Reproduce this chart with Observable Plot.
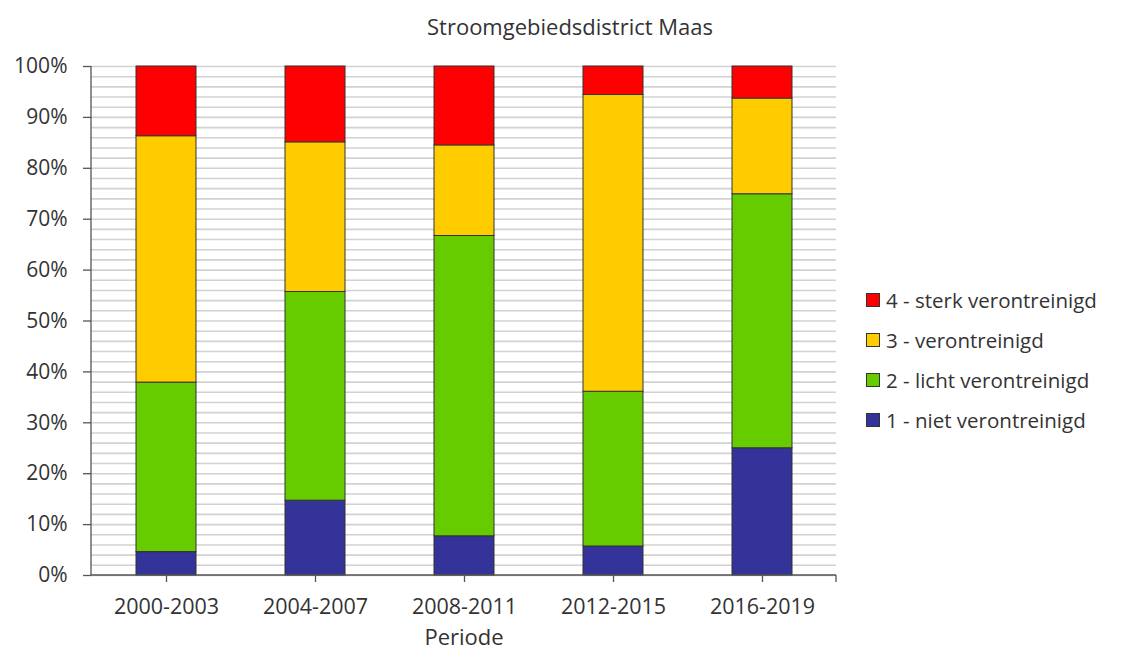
<!DOCTYPE html>
<html>
<head>
<meta charset="utf-8">
<script src="https://cdn.jsdelivr.net/npm/d3@7"></script>
<script src="https://cdn.jsdelivr.net/npm/@observablehq/plot@0.6"></script>
<style>
  html, body { margin: 0; padding: 0; background: #fff; }
  #wrap { position: relative; width: 1126px; height: 652px; font-family: "Open Sans", sans-serif; color: #333; }
  #title { position: absolute; left: 427px; top: 11px; font-size: 22px; white-space: nowrap; }
  #legend { position: absolute; left: 866px; top: 280px; font-size: 20.5px; }
  .row { display: flex; align-items: center; height: 40px; white-space: nowrap; }
  .sw { width: 12px; height: 12px; border: 1px solid #333; margin-right: 6px; box-sizing: content-box; }
</style>
</head>
<body>
<div id="wrap">
  <div id="title"></div>
  <div id="chart"></div>
  <div id="legend"></div>
</div>
<script>
const title = "Stroomgebiedsdistrict Maas";
const periods = ["2000-2003", "2004-2007", "2008-2011", "2012-2015", "2016-2019"];
const categories = ["1 - niet verontreinigd", "2 - licht verontreinigd", "3 - verontreinigd", "4 - sterk verontreinigd"];
const colors = ["#333399", "#66cc00", "#ffcc00", "#ff0000"];
const niet = [4.6, 14.7, 7.7, 5.7, 25.0];
const licht = [33.3, 41.0, 59.0, 30.4, 49.9];
const veront = [48.4, 29.4, 17.8, 58.3, 18.8];
const sterk = [13.7, 14.9, 15.5, 5.6, 6.3];
const yTicks = [0, 10, 20, 30, 40, 50, 60, 70, 80, 90, 100];
const gridValues = d3.range(0, 101, 2);
const xLabel = "Periode";

const series = [niet, licht, veront, sterk];
const data = [];
series.forEach((vals, i) => vals.forEach((v, j) => data.push({periode: periods[j], cat: categories[i], value: v})));

document.getElementById("title").textContent = title;

const axisLines = (index, scales, values, dims) => {
  const g = d3.create("svg:g").attr("stroke", "#555").attr("stroke-width", 1.3).attr("fill", "none");
  const x0 = dims.marginLeft, x1 = dims.width - dims.marginRight;
  const y0 = dims.height - dims.marginBottom, y1 = dims.marginTop;
  g.append("line").attr("x1", x0).attr("x2", x0).attr("y1", y1).attr("y2", y0);
  g.append("line").attr("x1", x0).attr("x2", x1).attr("y1", y0).attr("y2", y0);
  g.append("line").attr("x1", x1).attr("x2", x1).attr("y1", y0).attr("y2", y0 + 7);
  return g.node();
};

const chart = Plot.plot({
  width: 1126,
  height: 652,
  marginLeft: 91,
  marginRight: 290,
  marginTop: 66,
  marginBottom: 77,
  style: {fontFamily: "Open Sans, sans-serif", fontSize: "21px", color: "#333", background: "#fff"},
  x: {domain: periods, paddingInner: 0.6, paddingOuter: 0.3, label: null},
  y: {domain: [0, 100], label: null},
  color: {domain: categories, range: colors},
  marks: [
    Plot.ruleY(gridValues, {stroke: "#d2d2d2", strokeWidth: 1.6}),
    Plot.barY(data, {x: "periode", y: "value", fill: "cat", stroke: "#333", strokeWidth: 1, inset: 0}),
    axisLines,
    Plot.axisY(yTicks, {tickSize: 8, tickPadding: 16, tickFormat: d => d + "%", label: null, stroke: "#555", strokeWidth: 1.3, fontSize: 21}),
    Plot.axisX({tickSize: 7, tickPadding: 16, label: null, stroke: "#555", strokeWidth: 1.3, fontSize: 21.5}),
    Plot.text([xLabel], {frameAnchor: "bottom", dy: 69, fontSize: 22, fill: "#333"})
  ]
});
document.getElementById("chart").appendChild(chart);

const legend = document.getElementById("legend");
for (let i = categories.length - 1; i >= 0; i--) {
  const row = document.createElement("div");
  row.className = "row";
  const sw = document.createElement("span");
  sw.className = "sw";
  sw.style.background = colors[i];
  const t = document.createElement("span");
  t.textContent = categories[i];
  row.appendChild(sw);
  row.appendChild(t);
  legend.appendChild(row);
}
</script>
</body>
</html>
